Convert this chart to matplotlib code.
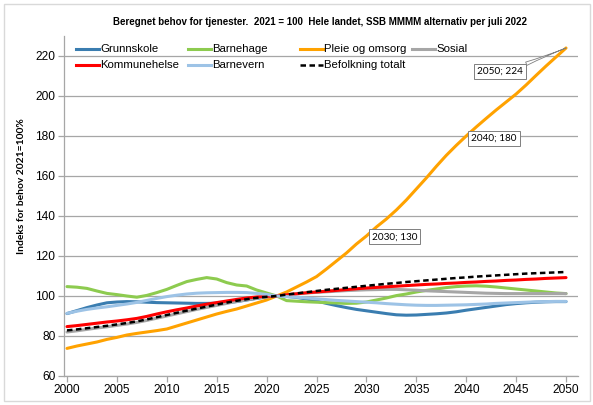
import matplotlib
matplotlib.use("Agg")
import matplotlib.pyplot as plt
from matplotlib.lines import Line2D
from matplotlib.patches import Rectangle

plt.rcParams['font.family'] = ['Liberation Sans', 'DejaVu Sans']

years = list(range(2000, 2051))

grunnskole = [91.2, 92.7, 94.2, 95.5, 96.6, 97.0, 97.2, 97.1, 96.9, 96.7,
              96.6, 96.5, 96.4, 96.3, 96.3, 96.4, 96.6, 97.2, 98.0, 98.8,
              99.5, 100.0, 99.8, 99.3, 98.5, 97.5, 96.3, 95.2, 94.2, 93.3,
              92.6, 91.9, 91.2, 90.6, 90.4, 90.5, 90.8, 91.1, 91.5, 92.1,
              92.9, 93.6, 94.3, 95.0, 95.7, 96.2, 96.6, 96.9, 97.1, 97.2, 97.2]
barnehage = [104.7, 104.4, 103.8, 102.5, 101.3, 100.7, 100.0, 99.4, 100.3, 101.7,
             103.3, 105.3, 107.2, 108.3, 109.2, 108.5, 106.7, 105.5, 105.0, 103.0,
             101.5, 100.0, 97.7, 97.4, 97.1, 96.9, 96.7, 96.5, 96.3, 96.4,
             97.0, 98.0, 99.0, 100.2, 101.0, 102.0, 102.8, 103.5, 104.2, 104.7,
             105.0, 105.1, 104.9, 104.5, 104.0, 103.5, 103.0, 102.5, 102.0, 101.5, 101.2]
pleie = [73.8, 75.0, 76.0, 77.0, 78.3, 79.3, 80.5, 81.3, 82.0, 82.7,
         83.5, 85.0, 86.5, 88.0, 89.5, 91.0, 92.3, 93.5, 95.0, 96.5,
         98.0, 100.0, 102.0, 104.5, 107.0, 109.7, 113.5, 117.5, 121.5, 126.0,
         130.0, 134.5, 138.5, 143.0, 148.0, 153.5, 159.0, 164.8, 170.3, 175.3,
         180.0, 184.5, 188.8, 193.0, 197.0, 201.0, 205.5, 210.3, 215.0, 219.5, 224.0]
sosial = [82.0, 82.6, 83.3, 84.0, 84.6, 85.3, 86.0, 86.8, 87.8, 88.9,
          90.0, 91.1, 92.2, 93.3, 94.3, 95.3, 96.3, 97.3, 98.1, 98.9,
          99.5, 100.0, 100.6, 101.1, 101.5, 101.8, 102.1, 102.4, 102.7, 102.9,
          103.1, 103.2, 103.3, 103.3, 103.1, 102.9, 102.6, 102.4, 102.2, 102.0,
          101.8, 101.6, 101.4, 101.3, 101.2, 101.2, 101.2, 101.2, 101.2, 101.2, 101.2]
kommunehelse = [84.7, 85.2, 85.8, 86.4, 87.0, 87.5, 88.1, 88.8, 89.8, 91.0,
                92.1, 93.1, 94.0, 95.0, 95.9, 96.7, 97.5, 98.3, 99.0, 99.5,
                99.9, 100.0, 100.6, 101.1, 101.6, 102.0, 102.4, 102.8, 103.2, 103.6,
                104.0, 104.3, 104.6, 104.9, 105.2, 105.5, 105.8, 106.0, 106.3, 106.5,
                106.8, 107.0, 107.3, 107.5, 107.8, 108.0, 108.3, 108.5, 108.8, 109.0, 109.2]
barnevern = [91.3, 92.4, 93.3, 94.0, 94.6, 95.3, 96.0, 96.8, 97.8, 98.8,
             99.7, 100.4, 101.0, 101.4, 101.6, 101.7, 101.8, 101.8, 101.7, 101.3,
             100.8, 100.0, 99.7, 99.4, 99.0, 98.6, 98.2, 97.8, 97.5, 97.2,
             96.9, 96.6, 96.2, 95.9, 95.6, 95.4, 95.3, 95.3, 95.4, 95.5,
             95.6, 95.8, 96.0, 96.3, 96.5, 96.7, 96.9, 97.1, 97.2, 97.3, 97.3]
befolkning = [82.8, 83.3, 83.9, 84.5, 85.1, 85.8, 86.5, 87.3, 88.3, 89.4,
              90.5, 91.6, 92.7, 93.7, 94.7, 95.7, 96.7, 97.6, 98.4, 99.1,
              99.6, 100.0, 100.7, 101.3, 101.9, 102.5, 103.1, 103.6, 104.1, 104.6,
              105.1, 105.6, 106.1, 106.5, 107.0, 107.4, 107.8, 108.2, 108.6, 109.0,
              109.3, 109.7, 110.0, 110.3, 110.6, 110.9, 111.2, 111.4, 111.6, 111.8, 112.0]

series_names = ["Grunnskole", "Barnehage", "Pleie og omsorg", "Sosial",
                "Kommunehelse", "Barnevern", "Befolkning totalt"]
series_values = [grunnskole, barnehage, pleie, sosial, kommunehelse, barnevern, befolkning]
series_colors = ["#3A7DB0", "#8DCB4F", "#FFA200", "#A6A6A6", "#FF0000", "#9DC3E6", "#000000"]

label_years = [2030, 2040, 2050]

title = "Beregnet behov for tjenester.  2021 = 100  Hele landet, SSB MMMM alternativ per juli 2022"
ylabel = "Indeks for behov 2021=100%"
yticks = list(range(60, 221, 20))
xticks = list(range(2000, 2051, 5))

W, H = 593, 405
fig = plt.figure(figsize=(W / 100, H / 100), dpi=100)
ax = fig.add_axes([63.7 / W, 1 - 376 / H, (578 - 63.7) / W, (376 - 36) / H])

grid_c = "#A6A6A6"
for i, (name, vals, col) in enumerate(zip(series_names, series_values, series_colors)):
    if name == "Befolkning totalt":
        ax.plot(years, vals, color=col, lw=1.8, ls=(0, (2.2, 1.4)), zorder=3 + i,
                dash_capstyle='butt')
    else:
        ax.plot(years, vals, color=col, lw=2.2, zorder=3 + i, solid_capstyle='round')

ax.set_xlim(1999.67, 2051.2)
ax.set_ylim(60, 230)
ax.set_yticks(yticks)
ax.set_xticks(xticks)
ax.tick_params(axis='both', labelsize=8.6, colors=grid_c, labelcolor='black',
               length=4, width=0.9, direction='out', pad=2)
ax.yaxis.grid(True, color=grid_c, lw=0.9)
ax.set_axisbelow(True)
for s in ['top', 'right']:
    ax.spines[s].set_visible(False)
for s in ['left', 'bottom']:
    ax.spines[s].set_color(grid_c)
    ax.spines[s].set_linewidth(0.9)

# data labels on Pleie og omsorg
label_offsets = [(28, -1), (28, -2), (-66, -23)]
for yr, off in zip(label_years, label_offsets):
    v = pleie[years.index(yr)]
    kw = {}
    if yr == 2050:
        kw['arrowprops'] = dict(arrowstyle='wedge,tail_width=0.35,shrink_factor=0.2',
                                fc='white', ec='#7F7F7F', lw=0.6,
                                relpos=(0.92, 1.0), shrinkA=0, shrinkB=0)
    ax.annotate(f"{yr}; {v:.0f}", xy=(yr, v), xytext=off, textcoords='offset pixels',
                ha='center', va='center', fontsize=7.2, family=['Lato', 'DejaVu Sans'],
                bbox=dict(boxstyle='square,pad=0.3', fc='white', ec='#7F7F7F', lw=0.7),
                zorder=20, **kw)

# legend (manual, Excel-style equal columns)
leg_order = [(0, 0, 0), (1, 1, 0), (2, 2, 0), (3, 3, 0), (4, 0, 1), (5, 1, 1), (6, 2, 1)]
col_x = [76, 188, 300, 412]
row_y = [49, 65]
for idx, c, r in leg_order:
    x0 = col_x[c]
    y = 1 - row_y[r] / H
    if series_names[idx] == "Befolkning totalt":
        ln = Line2D([x0 / W, (x0 + 23) / W], [y, y], transform=fig.transFigure,
                    color=series_colors[idx], lw=1.8, ls=(0, (2.2, 1.4)))
    else:
        ln = Line2D([x0 / W, (x0 + 23) / W], [y, y], transform=fig.transFigure,
                    color=series_colors[idx], lw=2.2)
    fig.add_artist(ln)
    fig.text((x0 + 24) / W, y, series_names[idx], fontsize=8.2, va='center', ha='left')

fig.text(113 / W, 1 - 22 / H, title, fontsize=7.05, fontweight='bold', ha='left', va='center')
fig.text(22 / W, 1 - 186 / H, ylabel, fontsize=7.4, fontweight='bold', rotation=90,
         ha='center', va='center', family=['Lato', 'DejaVu Sans'])

fig.add_artist(Rectangle((3.5 / W, 1 - 401 / H), (590 - 3.5) / W, (401 - 4) / H,
                         transform=fig.transFigure, fill=False, ec='#D9D9D9', lw=1))

fig.savefig("out.png", dpi=100)
